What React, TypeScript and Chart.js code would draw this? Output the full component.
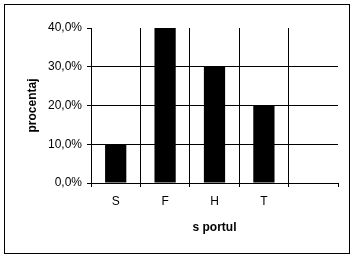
import React, { useEffect, useRef } from 'react';
import { Chart, registerables } from 'chart.js';

Chart.register(...registerables);

const categories = ['S', 'F', 'H', 'T', ''];
const values: (number | null)[] = [0.1, 0.4, 0.3, 0.2, null];
const yTicks = [0, 0.1, 0.2, 0.3, 0.4];
const yTitle = 'procentaj';
const xTitle = 's portul';

const FONT = "'Liberation Sans', Arial, sans-serif";
const W = 355;
const H = 258;

export default function App() {
  const ref = useRef<HTMLCanvasElement>(null);

  useEffect(() => {
    const chart = new Chart(ref.current as HTMLCanvasElement, {
      type: 'bar',
      data: {
        labels: categories,
        datasets: [
          {
            data: values,
            backgroundColor: '#000',
            borderWidth: 0,
            categoryPercentage: 1,
            barPercentage: 0.43,
          },
        ],
      },
      options: {
        animation: false,
        responsive: false,
        events: [],
        layout: { padding: { left: 0, top: 28, right: 17, bottom: 0 } },
        plugins: { legend: { display: false }, tooltip: { enabled: false } },
        scales: {
          x: {
            offset: true,
            grid: {
              offset: true,
              color: (ctx: any) => (ctx.type === 'tick' ? '#000' : 'rgba(0,0,0,0)'),
              tickColor: '#000',
              tickLength: 4,
              lineWidth: 1,
            },
            border: { color: '#000', width: 1 },
            ticks: {
              color: '#000',
              font: { family: FONT, size: 12 },
              padding: 7,
              maxRotation: 0,
              autoSkip: false,
            },
            title: {
              display: true,
              text: xTitle,
              color: '#000',
              font: { family: FONT, size: 12, weight: 'bold' },
              padding: { top: 0, bottom: 23 },
            },
            afterFit: (s: any) => {
              s.height = 75;
            },
          },
          y: {
            min: 0,
            max: 0.4,
            afterBuildTicks: (s: any) => {
              s.ticks = yTicks.map((v) => ({ value: v }));
            },
            grid: {
              color: (ctx: any) =>
                ctx.tick && Math.abs(ctx.tick.value - 0.4) < 1e-9 ? 'rgba(0,0,0,0)' : '#000',
              tickColor: '#000',
              tickLength: 4,
              lineWidth: 1,
            },
            border: { color: '#000', width: 1 },
            ticks: {
              color: '#000',
              font: { family: FONT, size: 12 },
              padding: 5,
              callback: (v: any) => (Number(v) * 100).toFixed(1).replace('.', ',') + '%',
            },
            title: {
              display: true,
              text: yTitle,
              color: '#000',
              font: { family: FONT, size: 12, weight: 'bold' },
              padding: { top: 25, bottom: 0 },
            },
            afterFit: (s: any) => {
              s.width = 91;
            },
          },
        },
      },
    } as any);
    return () => chart.destroy();
  }, []);

  return (
    <div style={{ position: 'fixed', left: 0, top: 0, width: W, height: H, background: '#fff' }}>
      <canvas ref={ref} width={W} height={H} style={{ position: 'absolute', left: 0, top: 0, width: W, height: H }} />
      <div
        style={{
          position: 'absolute',
          left: 4,
          top: 4,
          width: 346,
          height: 250,
          border: '1px solid #000',
          boxSizing: 'border-box',
          pointerEvents: 'none',
        }}
      />
    </div>
  );
}
